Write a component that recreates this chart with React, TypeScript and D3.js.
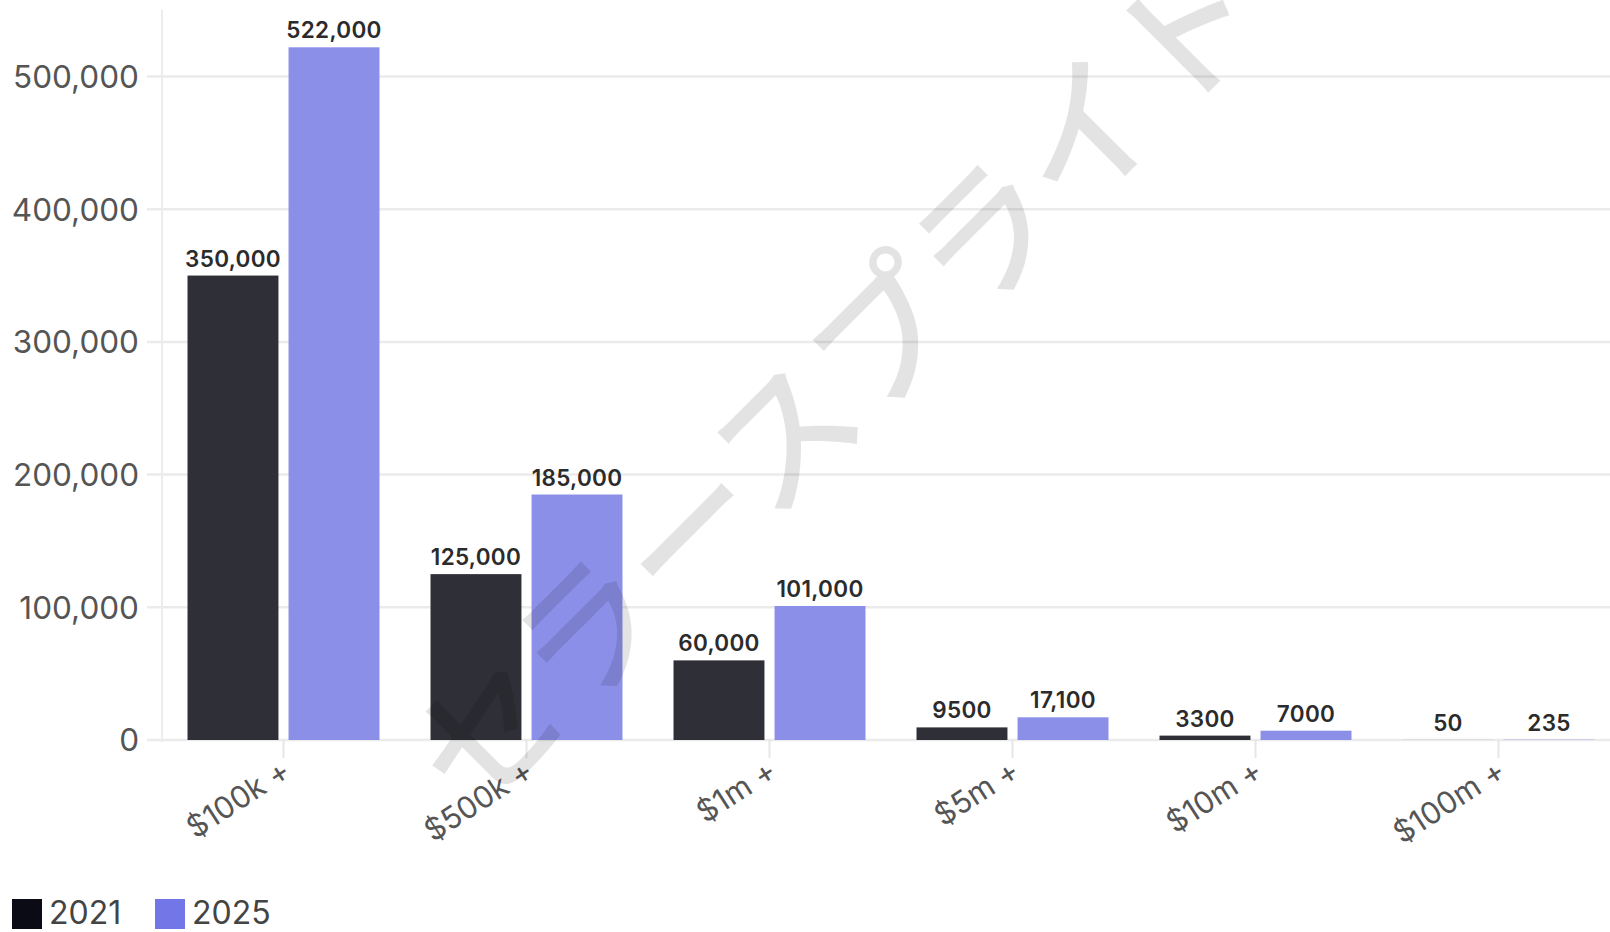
import * as d3 from "d3";

const categories = ["$100k +", "$500k +", "$1m +", "$5m +", "$10m +", "$100m +"];
const series = ["2021", "2025"];
const values2021 = [350000, 125000, 60000, 9500, 3300, 50];
const values2025 = [522000, 185000, 101000, 17100, 7000, 235];
const yTicks = [0, 100000, 200000, 300000, 400000, 500000];

const barColors: Record<string, string> = { "2021": "#2f2f37", "2025": "#8b8fe8" };
const legendColors: Record<string, string> = { "2021": "#0b0b16", "2025": "#7276e6" };

const W = 1610, H = 932;
const font = "Inter, 'Noto Sans', sans-serif";

export default function App() {
  const x0 = d3.scaleBand<string>().domain(categories).range([162, 1620])
    .paddingInner(0.21).paddingOuter(0.105);
  const x1 = d3.scaleBand<string>().domain(series).range([0, x0.bandwidth()]).paddingInner(0.1);
  const y = d3.scaleLinear().domain([0, 500000]).range([740, 76.5]);

  const fmt = (v: number) => (v >= 10000 ? d3.format(",")(v) : String(v));
  const rows = categories.map((c, i) => ({ c, vals: [values2021[i], values2025[i]] }));

  return (
    <svg width={W} height={H} style={{ position: "absolute", left: 0, top: 0, background: "#fff" }}
      fontFamily={font}>
      {/* grid */}
      {yTicks.map(t => (
        <g key={t}>
          <line x1={147} x2={W} y1={y(t)} y2={y(t)} stroke="#ebebeb" strokeWidth={2.5} />
          <text x={139} y={y(t)} dy="0.36em" textAnchor="end" fontSize={31.5} fill="#555">
            {d3.format(",")(t)}
          </text>
        </g>
      ))}
      <line x1={162} x2={162} y1={10} y2={742} stroke="#ececec" strokeWidth={2} />

      {/* bars */}
      {rows.map(r => (
        <g key={r.c} transform={`translate(${x0(r.c)},0)`}>
          {series.map((s, j) => {
            const v = r.vals[j];
            const bx = x1(s)!;
            return (
              <g key={s}>
                <rect x={bx} y={y(v)} width={x1.bandwidth()} height={y(0) - y(v)} fill={barColors[s]} />
                <text x={bx + x1.bandwidth() / 2} y={y(v) - 9} textAnchor="middle" fontSize={22.5}
                  fontWeight={600} fill="#2b2b2b" letterSpacing={0.3}>
                  {fmt(v)}
                </text>
              </g>
            );
          })}
        </g>
      ))}

      {/* x axis */}
      {categories.map(c => {
        const cx = x0(c)! + x0.bandwidth() / 2;
        return (
          <g key={c}>
            <line x1={cx} x2={cx} y1={740} y2={758} stroke="#e6e6e6" strokeWidth={2} />
            <text transform={`translate(${cx + 9},776) rotate(-33)`} textAnchor="end" fontSize={30.5} fill="#555">
              {c}
            </text>
          </g>
        );
      })}

      {/* legend */}
      {series.map((s, i) => {
        const lx = 12 + i * 143;
        return (
          <g key={s}>
            <rect x={lx} y={899} width={30} height={30} fill={legendColors[s]} />
            <text x={lx + 37} y={924} fontSize={32} fill="#444">{s}</text>
          </g>
        );
      })}

      {/* watermark */}
      <text transform="translate(830,376) rotate(-45)" textAnchor="middle" dominantBaseline="central"
        fontSize={142} fontWeight={500} fontFamily="'Noto Sans CJK JP', sans-serif" fill="#000" fillOpacity={0.11}>
        セラースプライト
      </text>
    </svg>
  );
}
